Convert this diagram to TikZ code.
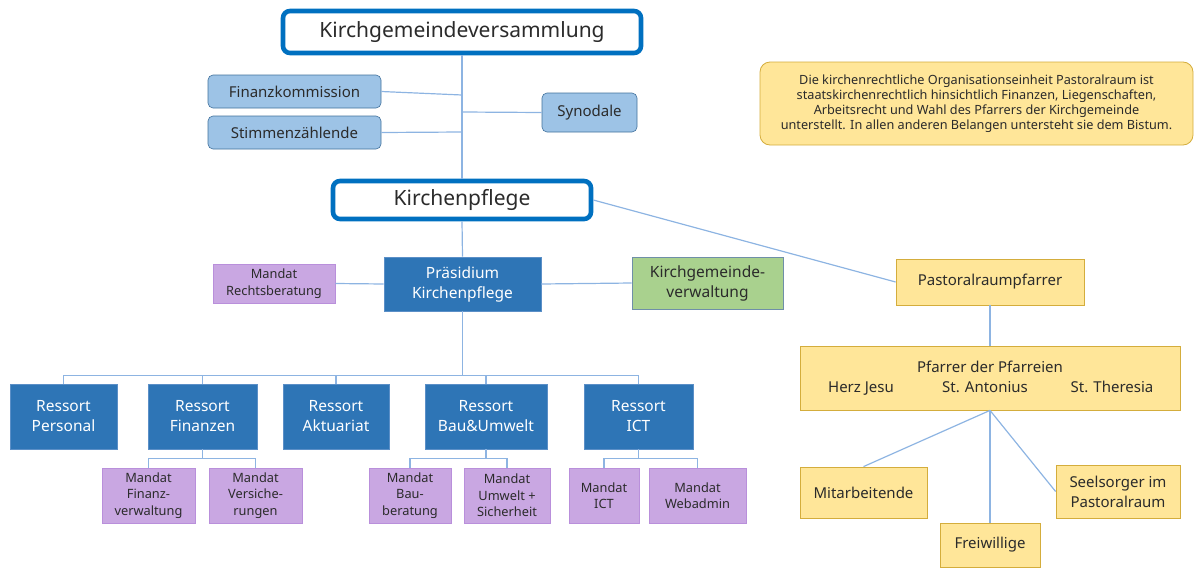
\documentclass[tikz,border=0pt]{standalone}
\usepackage{fontspec}
\setmainfont{Noto Sans}
\usetikzlibrary{positioning}

\definecolor{headblue}{HTML}{0070C0}
\definecolor{lightblue}{HTML}{9DC3E6}
\definecolor{lightblueline}{HTML}{41719C}
\definecolor{darkblue}{HTML}{2E75B6}
\definecolor{darkblueline}{HTML}{5B8FC7}
\definecolor{lilac}{HTML}{C9A7E2}
\definecolor{lilacline}{HTML}{B98FDB}
\definecolor{leafgreen}{HTML}{A9D18E}
\definecolor{leafline}{HTML}{6F8FA8}
\definecolor{paleyellow}{HTML}{FFE699}
\definecolor{goldline}{HTML}{D4AD3C}
\definecolor{wire}{HTML}{8DB4E2}
\definecolor{ink}{HTML}{2B2B2B}

\begin{document}
\begin{tikzpicture}[
  x=1pt, y=-1pt,
  head/.style={
    draw=headblue, line width=4.6pt, rounded corners=7pt,
    fill=white, text=ink, inner sep=0pt,
    font=\fontsize{21}{25}\selectfont
  },
  commission/.style={
    draw=lightblueline, fill=lightblue, rounded corners=5pt,
    text=ink, inner sep=0pt, line width=0.6pt,
    font=\fontsize{15}{18}\selectfont
  },
  ressort/.style={
    draw=darkblueline, fill=darkblue, text=white, inner sep=0pt,
    align=center, line width=0.6pt,
    font=\fontsize{15.5}{20}\selectfont
  },
  mandat/.style={
    draw=lilacline, fill=lilac, text=ink, inner sep=0pt,
    align=center, line width=0.6pt,
    font=\fontsize{12.8}{16.5}\selectfont
  },
  pastoral/.style={
    draw=goldline, fill=paleyellow, text=ink, inner sep=0pt,
    align=center, line width=0.8pt,
    font=\fontsize{15}{20}\selectfont
  },
  conn/.style={draw=wire, line width=1.2pt}
]
\useasboundingbox (0,0) rectangle (1195,568);

% --- Versammlung ---
\node[head, minimum width=358pt, minimum height=42pt] (kgv) at (462,32) {Kirchgemeindeversammlung};
\node[commission, minimum width=173pt, minimum height=33pt] (fiko) at (294.5,91.5) {Finanzkommission};
\node[commission, minimum width=173pt, minimum height=33pt] (stim) at (294.5,132.5) {Stimmenzählende};
\node[commission, minimum width=95pt, minimum height=39pt] (syno) at (589.5,112.5) {Synodale};

% --- Kirchenpflege ---
\node[head, minimum width=258pt, minimum height=38pt] (kp) at (462,200) {Kirchenpflege};
\node[ressort, minimum width=157pt, minimum height=54pt] (praes) at (462.5,284) {Präsidium\\Kirchenpflege};
\node[mandat, minimum width=122pt, minimum height=39pt] (recht) at (274,283.5) {Mandat\\Rechtsberatung};
\node[ressort, fill=leafgreen, draw=leafline, text=ink, minimum width=151pt, minimum height=52pt] (verw) at (707.5,283) {Kirchgemeinde-\\verwaltung};

\coordinate (fikoend) at (462,95);
\coordinate (stimend) at (462,132);
\coordinate (synoend) at (462,112);

\draw[conn] (kgv.south) -- (kp.north);
\draw[conn] (fiko.east) -- (fikoend);
\draw[conn] (stim.east) -- (stimend);
\draw[conn] (syno.west) -- (synoend);
\draw[conn] (kp.south) -- (praes.north);
\draw[conn] (recht.east) -- (praes.west);
\draw[conn] (praes.east) -- (verw.west);

% --- Ressorts ---
\foreach \name/\x/\w [count=\i] in {Personal/63.5/107, Finanzen/202.5/109, Aktuariat/336/106, Bau\&Umwelt/486/122, ICT/638.5/109} {
  \node[ressort, minimum width=\w pt, minimum height=65pt] (r\i) at (\x,416.5) {Ressort\\\name};
  \draw[conn] (praes.south) -- ++(0,64) -| (r\i.north);
}

% --- Mandate ---
\node[mandat, minimum width=93pt, minimum height=55pt] (m1) at (148.5,495.5) {Mandat\\Finanz-\\verwaltung};
\node[mandat, minimum width=93pt, minimum height=55pt] (m2) at (255.5,495.5) {Mandat\\Versiche-\\rungen};
\node[mandat, minimum width=82pt, minimum height=55pt] (m3) at (410,495.5) {Mandat\\Bau-\\beratung};
\node[mandat, minimum width=86pt, minimum height=55pt] (m4) at (507,495.5) {Mandat\\Umwelt +\\Sicherheit};
\node[mandat, minimum width=70pt, minimum height=55pt] (m5) at (604,495.5) {Mandat\\ICT};
\node[mandat, minimum width=97pt, minimum height=55pt] (m6) at (697.5,495.5) {Mandat\\Webadmin};

\foreach \r/\m in {2/1, 2/2, 4/3, 4/4, 5/5, 5/6} {
  \draw[conn] (r\r.south) -- ++(0,9.5) -| (m\m.north);
}

% --- Pastoralraum ---
\node[pastoral, rounded corners=10pt, minimum width=433pt, minimum height=83pt,
      font=\fontsize{12.7}{15}\selectfont] (note) at (976.5,103.5)
  {Die kirchenrechtliche Organisationseinheit Pastoralraum ist\\
   staatskirchenrechtlich hinsichtlich Finanzen, Liegenschaften,\\
   Arbeitsrecht und Wahl des Pfarrers der Kirchgemeinde\\
   unterstellt. In allen anderen Belangen untersteht sie dem Bistum.};

\node[pastoral, minimum width=188pt, minimum height=46pt] (prp) at (990,282) {Pastoralraumpfarrer};
\node[pastoral, minimum width=380pt, minimum height=64pt] (pfarrer) at (990,378)
  {Pfarrer der Pfarreien\\
   \makebox[121pt]{Herz Jesu}\makebox[127pt]{St. Antonius}\makebox[127pt]{St. Theresia}\hspace*{4pt}};
\node[pastoral, minimum width=127pt, minimum height=51pt] (mitarb) at (863.5,492.5) {Mitarbeitende};
\node[pastoral, minimum width=100pt, minimum height=44pt] (frei) at (990,545) {Freiwillige};
\node[pastoral, minimum width=124pt, minimum height=53pt] (seel) at (1118,491.5) {Seelsorger im\\Pastoralraum};

\draw[conn] (kp.east) -- (prp.west);
\draw[conn] (prp.south) -- (pfarrer.north);
\draw[conn] (pfarrer.south) -- (mitarb.north);
\draw[conn] (pfarrer.south) -- (frei.north);
\draw[conn] (pfarrer.south) -- (seel.west);

\end{tikzpicture}
\end{document}
